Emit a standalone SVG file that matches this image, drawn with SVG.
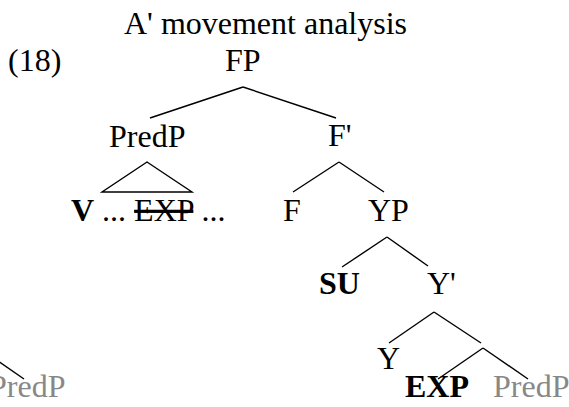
<svg xmlns="http://www.w3.org/2000/svg" width="569" height="407" viewBox="0 0 569 407">
<style>
text{font-family:"Liberation Serif","Times New Roman",serif;font-size:32px;fill:#000}
.b{font-weight:bold}
.g{fill:#888}
.s{text-decoration:line-through}
line{stroke:#000;stroke-width:1.4}
</style>
<rect width="569" height="407" fill="#fff"/>
<g id="title"><text x="124" y="34">A' movement analysis</text></g>
<g id="ex"><text x="8" y="71">(18)</text></g>
<g id="FP"><text x="225" y="71">FP</text></g>
<g id="PredP"><text x="109" y="147">PredP</text></g>
<g id="Fbar"><text x="328" y="146">F'</text></g>
<g id="PredPcontent"><text x="71" y="221"><tspan class="b">V</tspan> ... <tspan class="s">EXP</tspan> ...</text></g>
<g id="F"><text x="283" y="221">F</text></g>
<g id="YP"><text x="368" y="221">YP</text></g>
<g id="SU"><text class="b" x="319" y="294">SU</text></g>
<g id="Ybar"><text x="427" y="294">Y'</text></g>
<g id="Y"><text x="377" y="369">Y</text></g>
<g id="EXP"><text class="b" x="405" y="397">EXP</text></g>
<g id="PredP2"><text class="g" x="493" y="397">PredP</text></g>
<g id="PredP3"><text class="g" x="-11" y="397">PredP</text></g>
<g id="connectors">
<line x1="243" y1="87" x2="150" y2="118"/>
<line x1="243" y1="87" x2="336" y2="118"/>
<polygon points="147,162 102,192 192,192" fill="none" stroke="#000" stroke-width="1.4"/>
<line x1="339" y1="162" x2="293" y2="192"/>
<line x1="339" y1="162" x2="384" y2="192"/>
<line x1="387" y1="237" x2="342" y2="267"/>
<line x1="387" y1="237" x2="428" y2="266"/>
<line x1="434" y1="312" x2="389" y2="343"/>
<line x1="434" y1="312" x2="481" y2="343"/>
<line x1="483" y1="348" x2="438" y2="379"/>
<line x1="483" y1="348" x2="528" y2="379"/>
<line x1="-21" y1="348" x2="24" y2="379"/>
</g>
</svg>
